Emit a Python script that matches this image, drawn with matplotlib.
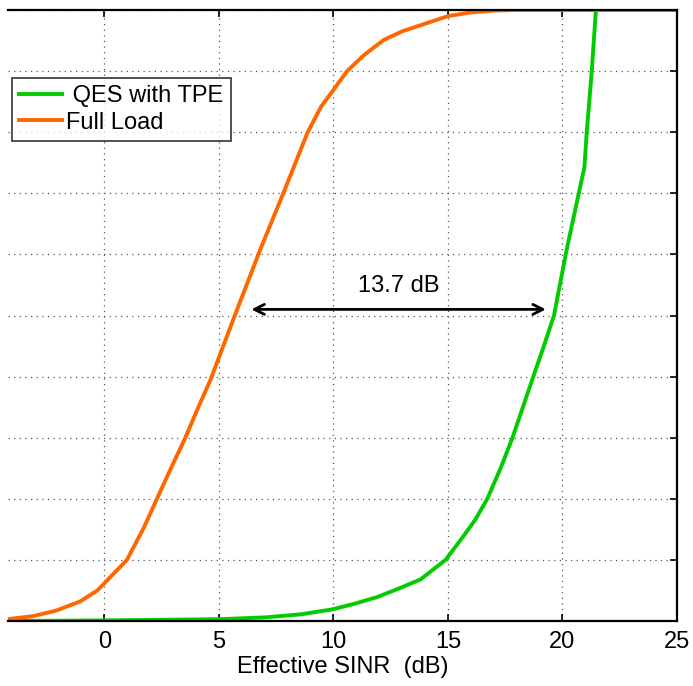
import numpy as np
import matplotlib
matplotlib.use("Agg")
import matplotlib.pyplot as plt

plt.rcParams['font.family'] = ['Liberation Sans', 'DejaVu Sans']

# Full Load curve
sinr_full = [-4.2, -3.1, -2.1, -1.05, -0.3, 0.14, 0.99, 1.72, 2.3, 2.95, 3.54,
             4.12, 4.63, 5.7, 6.8, 7.87, 8.88, 9.47, 10.0, 10.6, 11.33, 12.2,
             13.0, 13.8, 15.0, 16.0, 17.0, 18.0, 25.0]
cdf_full = [0.003, 0.008, 0.017, 0.032, 0.05, 0.067, 0.1, 0.152, 0.2, 0.253,
            0.3, 0.351, 0.394, 0.5, 0.607, 0.705, 0.8, 0.842, 0.869, 0.9,
            0.926, 0.951, 0.965, 0.975, 0.99, 0.996, 0.999, 1.0, 1.0]

# QES with TPE curve
sinr_qes = [-4.2, 0.0, 5.1, 7.05, 8.6, 9.95, 10.9, 11.9, 12.85, 13.8, 14.9,
            15.7, 16.2, 16.72, 17.3, 17.82, 18.7, 19.18, 19.63, 20.18, 20.96,
            21.06, 21.28, 21.46, 25.0]
cdf_qes = [0.0, 0.001, 0.003, 0.006, 0.011, 0.019, 0.028, 0.039, 0.053, 0.068,
           0.1, 0.14, 0.166, 0.2, 0.25, 0.3, 0.397, 0.449, 0.5, 0.607, 0.743,
           0.8, 0.9, 1.0, 1.0]

gap_start, gap_end, gap_level = 6.3, 19.4, 0.51
gap_text = "13.7 dB"

fig = plt.figure(figsize=(6.93, 6.86), dpi=100)
ax = fig.add_axes([8 / 693, 1 - 621 / 686, (677 - 8) / 693, (621 - 10) / 686])

ax.plot(sinr_qes, cdf_qes, color='#00cc00', lw=2.8, label=' QES with TPE')
ax.plot(sinr_full, cdf_full, color='#ff6600', lw=2.8, label='Full Load')

ax.set_xlim(-4.2, 25)
ax.set_ylim(0, 1)
ax.set_xticks([0, 5, 10, 15, 20, 25])
ax.set_yticks(np.arange(0, 1.01, 0.1))
ax.set_yticklabels([])
ax.tick_params(direction='in', top=True, right=True, left=False,
               length=5, width=1.2, labelsize=17, pad=7)
ax.spines['left'].set_visible(False)
for s in ['top', 'right', 'bottom']:
    ax.spines[s].set_linewidth(1.6)
ax.grid(True, linestyle=(0, (1, 3.5)), color='#555555', lw=0.9)
ax.set_xlabel("Effective SINR  (dB)", fontsize=17, labelpad=2)

ax.annotate('', xy=(gap_start, gap_level), xytext=(gap_end, gap_level),
            arrowprops=dict(arrowstyle='<->', color='black', lw=2,
                            mutation_scale=18))
ax.text((gap_start + gap_end) / 2, 0.548, gap_text, fontsize=17,
        ha='center', va='center')

leg = ax.legend(loc='upper left', bbox_to_anchor=(0.006, 0.889), fontsize=17,
                frameon=True, fancybox=False, edgecolor='black',
                handlelength=1.8, handletextpad=0.2, borderpad=0.3,
                labelspacing=0.2, borderaxespad=0)
leg.get_frame().set_linewidth(1.2)

fig.savefig("out.png", dpi=100)
